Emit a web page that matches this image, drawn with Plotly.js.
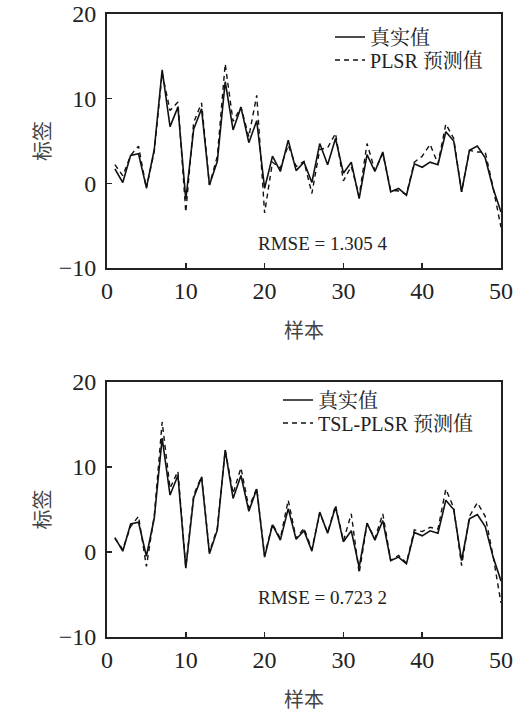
<!DOCTYPE html>
<html>
<head>
<meta charset="utf-8">
<script src="https://cdn.plot.ly/plotly-3.0.1.min.js"></script>
<style>html,body{margin:0;padding:0;background:#fff;}#chart{width:518px;height:715px;}</style>
</head>
<body>
<div id="chart"></div>
<script>
var samples = [];
for (var k = 1; k <= 50; k++) samples.push(k);

var trueValues = [1.7,0.1,3.3,3.5,-0.5,4.0,13.4,6.7,9.0,-1.9,
                  6.4,8.8,-0.2,2.6,12.0,6.3,9.0,4.8,7.4,-0.6,
                  3.2,1.4,5.1,1.5,2.5,0.1,4.7,2.2,5.3,1.2,
                  2.5,-1.8,3.4,1.4,3.7,-1.0,-0.6,-1.4,2.3,1.9,
                  2.5,2.2,6.1,5.0,-1.0,3.9,4.4,3.0,-0.6,-3.4];

var plsrPred = [2.2,0.9,3.3,4.4,-0.6,3.8,13.0,8.6,9.6,-3.4,
                7.2,9.5,-0.2,3.2,14.1,7.3,9.0,5.5,10.4,-3.5,
                2.5,1.8,4.5,2.0,2.6,-1.2,4.0,4.2,5.9,0.3,
                2.0,-1.5,4.7,1.5,3.5,-0.8,-0.9,-1.3,2.5,3.2,
                4.6,2.3,7.0,5.3,-1.0,3.9,3.7,3.7,-0.5,-5.2];

var tslPred = [1.6,0.3,3.0,4.2,-1.7,4.3,15.3,7.5,9.5,-1.8,
               6.7,8.9,0.0,2.8,12.0,6.9,9.9,5.2,7.5,-0.4,
               3.3,1.6,6.1,1.6,2.8,0.3,4.6,2.3,5.5,1.3,
               4.5,-2.5,3.3,1.6,4.5,-1.0,-0.4,-1.3,2.6,2.4,
               2.9,2.7,7.4,5.2,-1.6,4.2,5.8,4.2,-0.5,-6.0];

var xTicks = [0,10,20,30,40,50];
var yTicks = [-10,0,10,20];
var rmseTop = 'RMSE = 1.305 4';
var rmseBottom = 'RMSE = 0.723 2';

var serif = "'Liberation Serif', 'DejaVu Serif', serif";
var cjk = "'Noto Sans CJK SC', sans-serif";
var mixed = "'Liberation Serif', 'Noto Serif CJK SC', 'Noto Sans CJK SC', serif";
var dashPattern = '5px,4px';

var traces = [
  {x: samples, y: trueValues, type: 'scatter', mode: 'lines', name: '真实值',
   line: {color: '#111', width: 1.6}, xaxis: 'x', yaxis: 'y', legend: 'legend'},
  {x: samples, y: plsrPred, type: 'scatter', mode: 'lines', name: 'PLSR 预测值',
   line: {color: '#111', width: 1.4, dash: dashPattern}, xaxis: 'x', yaxis: 'y', legend: 'legend3'},
  {x: samples, y: trueValues, type: 'scatter', mode: 'lines', name: '真实值',
   line: {color: '#111', width: 1.6}, xaxis: 'x2', yaxis: 'y2', legend: 'legend2'},
  {x: samples, y: tslPred, type: 'scatter', mode: 'lines', name: 'TSL-PLSR 预测值',
   line: {color: '#111', width: 1.4, dash: dashPattern}, xaxis: 'x2', yaxis: 'y2', legend: 'legend4'}
];

function xa(anchor) {
  return {
    anchor: anchor, range: [0, 50], tickvals: xTicks, ticks: 'inside', ticklen: 5, tickwidth: 1.5,
    tickcolor: '#222', showline: true, linecolor: '#222', linewidth: 2, mirror: true,
    showgrid: false, zeroline: false, ticklabelstandoff: 0,
    tickfont: {family: serif, size: 24, color: '#222'},
    title: {text: '样本', font: {family: cjk, size: 20, color: '#444'}, standoff: 21}
  };
}
function ya(anchor, domain) {
  return {
    anchor: anchor, domain: domain, range: [-10, 20], tickvals: yTicks, ticks: 'inside', ticklen: 5,
    tickwidth: 1.5, tickcolor: '#222', showline: true, linecolor: '#222', linewidth: 2, mirror: true,
    showgrid: false, zeroline: false, ticklabelstandoff: 4,
    tickfont: {family: serif, size: 24, color: '#222'},
    title: {text: '标签', font: {family: cjk, size: 20, color: '#444'}, standoff: 3}
  };
}
function leg(x, y) {
  return {x: x, y: y, xanchor: 'left', yanchor: 'middle', bgcolor: 'rgba(0,0,0,0)',
          font: {family: mixed, size: 20, color: '#222'}, tracegroupgap: 0, visible: true};
}

var layout = {
  width: 518, height: 715,
  showlegend: true,
  margin: {l: 107, r: 17, t: 14, b: 78},
  paper_bgcolor: '#fff', plot_bgcolor: '#fff',
  xaxis: xa('y'),
  yaxis: ya('x', [0.5923, 1]),
  xaxis2: xa('y2'),
  yaxis2: ya('x2', [0, 0.4093]),
  legend: leg(0.566, 0.9631),
  legend3: leg(0.566, 0.9262),
  legend2: leg(0.434, 0.3804),
  legend4: leg(0.434, 0.3435),
  annotations: [
    {x: 27.3, y: -7.06, xref: 'x', yref: 'y', text: rmseTop, showarrow: false,
     font: {family: serif, size: 19, color: '#222'}},
    {x: 27.3, y: -5.4, xref: 'x2', yref: 'y2', text: rmseBottom, showarrow: false,
     font: {family: serif, size: 19, color: '#222'}}
  ]
};

Plotly.newPlot('chart', traces, layout, {displayModeBar: false, staticPlot: true});
</script>
</body>
</html>
